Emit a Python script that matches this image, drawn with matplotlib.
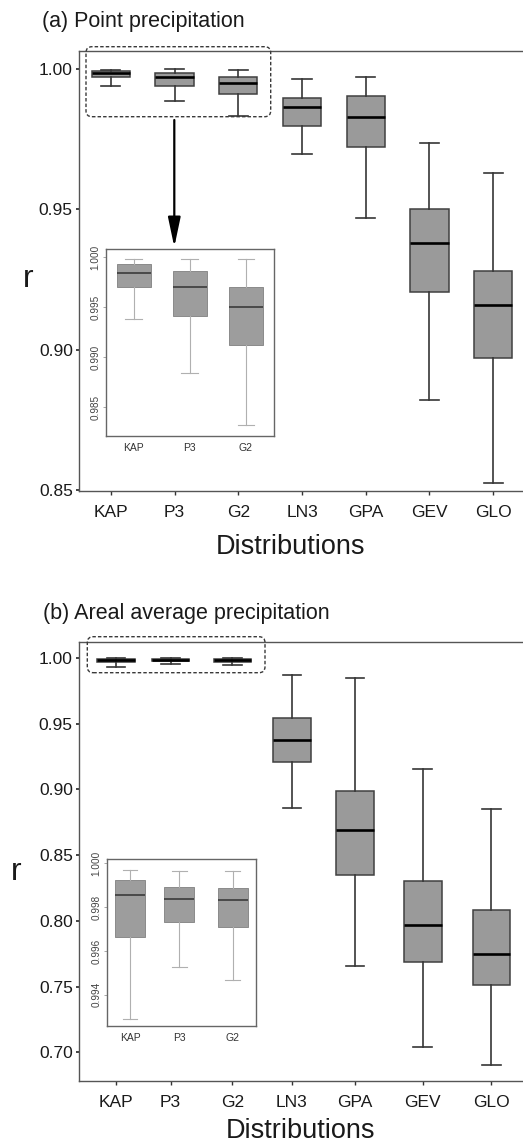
import matplotlib.pyplot as plt
from matplotlib.patches import FancyBboxPatch
from matplotlib.transforms import IdentityTransform

plt.rcParams['font.family'] = ['Liberation Sans', 'DejaVu Sans']

dists = ["KAP", "P3", "G2", "LN3", "GPA", "GEV", "GLO"]

# (a) point precipitation, correlation r per distribution
pt_lo  = [0.99377, 0.98843, 0.98320, 0.96986, 0.94698, 0.88221, 0.85267]
pt_q1  = [0.99697, 0.99410, 0.99117, 0.97982, 0.97235, 0.92064, 0.89715]
pt_med = [0.99843, 0.99700, 0.99497, 0.98637, 0.98281, 0.93808, 0.91576]
pt_q3  = [0.99927, 0.99857, 0.99700, 0.98957, 0.99039, 0.95018, 0.92811]
pt_hi  = [0.99980, 0.99983, 0.99977, 0.99644, 0.99727, 0.97355, 0.96310]

# (b) areal average precipitation
ar_lo  = [0.99289, 0.99526, 0.99468, 0.88574, 0.76592, 0.70436, 0.69044]
ar_q1  = [0.99662, 0.99733, 0.99711, 0.92070, 0.83508, 0.76874, 0.75100]
ar_med = [0.99856, 0.99839, 0.99834, 0.93720, 0.86882, 0.79662, 0.77504]
ar_q3  = [0.99926, 0.99893, 0.99886, 0.95439, 0.89869, 0.83029, 0.80802]
ar_hi  = [0.99970, 0.99966, 0.99963, 0.98685, 0.98480, 0.91541, 0.88474]


def make_stats(lo, q1, med, q3, hi):
    return [dict(whislo=a, q1=b, med=c, q3=d, whishi=e, fliers=[])
            for a, b, c, d, e in zip(lo, q1, med, q3, hi)]


W, H = 523, 1145
fig = plt.figure(figsize=(W / 100, H / 100), dpi=100)


def fig_box(x0, y0, x1, y1):
    # pixel box (top-left origin) -> figure fraction rect
    return [x0 / W, 1 - y1 / H, (x1 - x0) / W, (y1 - y0) / H]


def main_panel(rect, stats, pos, width, ylim, yticks):
    ax = fig.add_axes(rect)
    ax.bxp(stats, positions=pos, widths=width, patch_artist=True,
           showfliers=False, manage_ticks=False, capwidths=width * 0.5,
           boxprops=dict(facecolor='#9a9a9a', edgecolor='#404040', linewidth=1.1),
           whiskerprops=dict(color='#363636', linewidth=1.2),
           capprops=dict(color='#363636', linewidth=1.2),
           medianprops=dict(color='black', linewidth=1.9))
    ax.set_xlim(0.5, 7.5)
    ax.set_ylim(*ylim)
    ax.set_xticks(pos, dists)
    ax.set_yticks(yticks, [f"{t:.2f}" for t in yticks])
    ax.tick_params(axis='x', length=3, width=1, pad=7, labelsize=12.5,
                   color='#333333', labelcolor='#1a1a1a')
    ax.tick_params(axis='y', length=2.5, width=1.2, pad=2, labelsize=12.5,
                   color='#222222', labelcolor='#1a1a1a')
    ax.spines['right'].set_visible(False)
    for s in ('left', 'bottom', 'top'):
        ax.spines[s].set_color('#555555')
        ax.spines[s].set_linewidth(1.0)
    return ax


def inset_panel(rect, stats, pos, ylim, yticks):
    ax = fig.add_axes(rect)
    ax.bxp(stats, positions=pos, widths=0.6, patch_artist=True,
           showfliers=False, manage_ticks=False, capwidths=0.3,
           boxprops=dict(facecolor='#9d9d9d', edgecolor='#8a8a8a', linewidth=0.7),
           whiskerprops=dict(color='#b0b0b0', linewidth=0.8),
           capprops=dict(color='#b0b0b0', linewidth=0.8),
           medianprops=dict(color='#333333', linewidth=1.1))
    ax.set_xlim(0.5, 3.5)
    ax.set_ylim(*ylim)
    ax.set_xticks(pos, dists[:3])
    ax.set_yticks(yticks, [f"{t:.3f}" for t in yticks])
    ax.tick_params(axis='x', length=0, pad=5, labelsize=7.5, labelcolor='#333333')
    ax.tick_params(axis='y', length=2, width=0.6, pad=2, labelsize=7.2,
                   labelcolor='#444444', color='#999999')
    for lab in ax.get_yticklabels():
        lab.set_rotation(90)
        lab.set_va('center')
    for s in ax.spines.values():
        s.set_color('#666666')
        s.set_linewidth(1.0)
    return ax


# ---- (a) point precipitation
ax_a = main_panel(fig_box(79, 51, 525, 490.7),
                  make_stats(pt_lo, pt_q1, pt_med, pt_q3, pt_hi),
                  [1, 2, 3, 4, 5, 6, 7], 0.6, (0.8498, 1.0064),
                  [0.85, 0.90, 0.95, 1.00])
inset_panel(fig_box(105.7, 249, 274, 435.7),
            make_stats(pt_lo[:3], pt_q1[:3], pt_med[:3], pt_q3[:3], pt_hi[:3]),
            [1, 2, 3], (0.98213, 1.0008), [0.985, 0.990, 0.995, 1.000])

# ---- (b) areal average precipitation
pos_b = [1.081, 1.939, 2.906, 3.843, 4.832, 5.895, 6.973]
ax_b = main_panel(fig_box(79, 641.7, 525, 1080.7),
                  make_stats(ar_lo, ar_q1, ar_med, ar_q3, ar_hi),
                  pos_b, 0.59, (0.6784, 1.0122),
                  [0.70, 0.75, 0.80, 0.85, 0.90, 0.95, 1.00])
inset_panel(fig_box(106.7, 859, 255.7, 1025.7),
            make_stats(ar_lo[:3], ar_q1[:3], ar_med[:3], ar_q3[:3], ar_hi[:3]),
            [0.97, 1.96, 3.04], (0.99259, 1.0002),
            [0.994, 0.996, 0.998, 1.000])

# dashed frames around the three top boxes, and arrows down to the zooms
for x0, y0, x1, y1 in [(86, 46.7, 270.7, 116.7), (87.3, 636.7, 265, 672.7)]:
    frame = FancyBboxPatch((x0, H - y1), x1 - x0, y1 - y0,
                           boxstyle="round,pad=0,rounding_size=6",
                           transform=IdentityTransform(), fill=False,
                           edgecolor='#3a3a3a', linewidth=1.0,
                           linestyle=(0, (2.5, 1.5)), zorder=5)
    fig.add_artist(frame)

for x, y_start, y_end in [(174.3, 120, 247), (171.3, 683, 851)]:
    ax_a.annotate("", xy=(x, H - y_end), xytext=(x, H - y_start),
                  xycoords='figure pixels', textcoords='figure pixels',
                  arrowprops=dict(arrowstyle='-|>,head_length=1.8,head_width=0.38',
                                  mutation_scale=10, color='black', lw=1.6,
                                  shrinkA=0, shrinkB=0))

# titles and axis labels
fig.text(42 / W, 1 - 21 / H, "(a) Point precipitation", fontsize=15.5,
         ha='left', va='center', color='#1a1a1a')
fig.text(42.7 / W, 1 - 613 / H, "(b) Areal average precipitation", fontsize=15.5,
         ha='left', va='center', color='#1a1a1a')
fig.text(290 / W, 1 - 546.7 / H, "Distributions", fontsize=19.5,
         ha='center', va='center', color='#1a1a1a')
fig.text(301 / W, 1 - 1131 / H, "Distributions", fontsize=19.5,
         ha='center', va='center', color='#1a1a1a')
fig.text(28 / W, 1 - 279 / H, "r", fontsize=23, ha='center', va='center',
         color='#1a1a1a')
fig.text(16 / W, 1 - 872 / H, "r", fontsize=23, ha='center', va='center',
         color='#1a1a1a')

fig.savefig("out.png", dpi=100)
